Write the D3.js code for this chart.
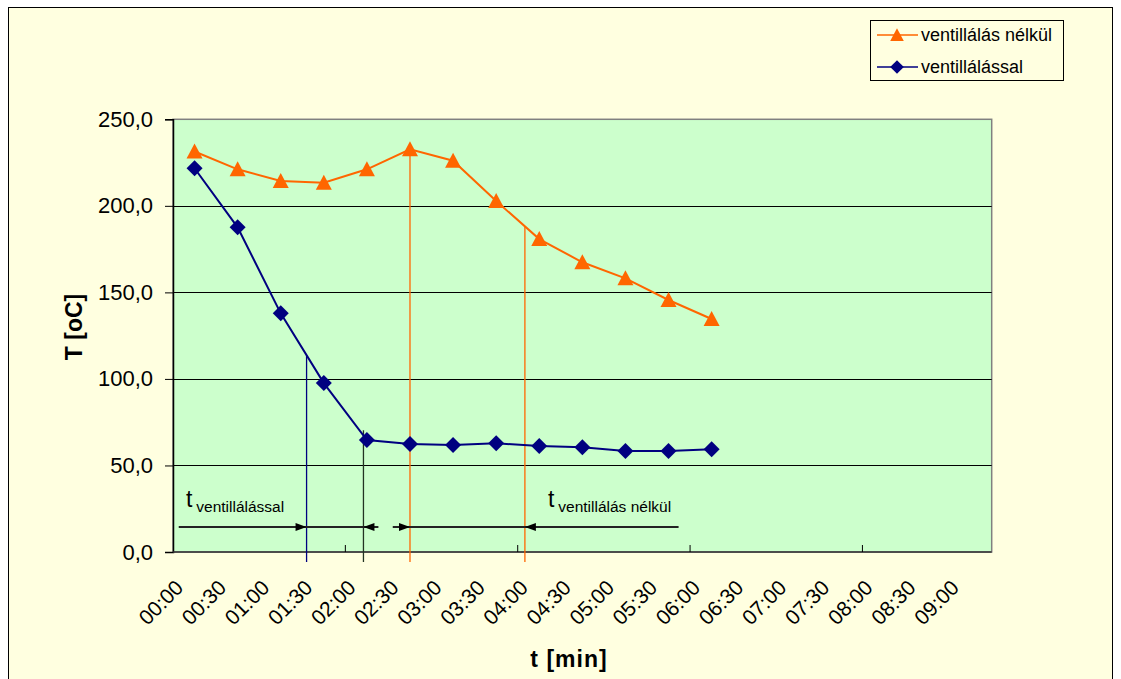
<!DOCTYPE html>
<html>
<head>
<meta charset="utf-8">
<script src="https://cdn.jsdelivr.net/npm/d3@7"></script>
<style>
  html, body { margin: 0; padding: 0; background: #ffffff; }
  svg { display: block; font-family: Arial, "Liberation Sans", sans-serif; }
</style>
</head>
<body>
<svg id="chart" width="1121" height="679"></svg>
<script>
// Time axis categories (every 30 s)
const timeLabels = ["00:00","00:30","01:00","01:30","02:00","02:30","03:00","03:30","04:00",
  "04:30","05:00","05:30","06:00","06:30","07:00","07:30","08:00","08:30","09:00"];
const stepSeconds = 30;

// Measured temperatures [°C]
const withoutVentilation = [231.4, 221.1, 214.4, 213.4, 221.1, 232.7, 226.1, 202.8, 180.8, 167.4, 158.1, 145.6, 134.6];
const withVentilation    = [221.7, 187.6, 137.9, 97.6, 64.7, 62.4, 61.8, 62.8, 61.2, 60.5, 58.4, 58.4, 59.3];

const seriesNames = ["ventillálás nélkül", "ventillálással"];
const yTicks = [0, 50, 100, 150, 200, 250];

// Duration markers (seconds): start/end of each cooling period
const markWith = [78, 117.6];
const markWithout = [150, 230];
// Horizontal arrow spans (seconds) and their level (°C)
const spanWith = [-11, 128];
const spanWithout = [138, 337];
const arrowLevel = 14.4;

const svg = d3.select("#chart");
const plot = { left: 173, right: 991.7, top: 119.3, bottom: 552 };

const ORANGE = "#ff6600", NAVY = "#000080";

// Chart frame
svg.append("rect").attr("x", 8.5).attr("y", 7.5).attr("width", 1104).attr("height", 690)
  .attr("fill", "#ffffe0").attr("stroke", "#000").attr("stroke-width", 1);

const x = d3.scaleLinear()
  .domain([-stepSeconds / 2, (timeLabels.length - 0.5) * stepSeconds])
  .range([plot.left, plot.right]);
const y = d3.scaleLinear().domain([0, 250]).range([plot.bottom, plot.top]);

// Plot area
svg.append("rect").attr("x", plot.left).attr("y", plot.top)
  .attr("width", plot.right - plot.left).attr("height", plot.bottom - plot.top)
  .attr("fill", "#ccffcc").attr("stroke", "#808080").attr("stroke-width", 1.5);

// Horizontal gridlines
svg.append("g").selectAll("line").data(yTicks.filter(d => d > 0 && d < 250)).join("line")
  .attr("x1", plot.left).attr("x2", plot.right)
  .attr("y1", d => Math.round(y(d)) + 0.5).attr("y2", d => Math.round(y(d)) + 0.5)
  .attr("stroke", "#000").attr("stroke-width", 1);

// Y axis
const yAxis = d3.axisLeft(y).tickValues(yTicks).tickSize(8).tickPadding(12)
  .tickFormat(d => d3.format(".1f")(d).replace(".", ","));
const gy = svg.append("g").attr("transform", `translate(${plot.left},0)`).call(yAxis);
gy.select(".domain").attr("stroke", "#000").attr("stroke-width", 1.5);
gy.selectAll(".tick line").attr("stroke", "#000");
gy.selectAll(".tick text").attr("font-size", 22).attr("fill", "#000");

// X axis baseline and inner tick marks (every 4 categories)
svg.append("line").attr("x1", plot.left).attr("x2", plot.right)
  .attr("y1", plot.bottom).attr("y2", plot.bottom).attr("stroke", "#333").attr("stroke-width", 1.5);
const boundaryTicks = d3.range(0, timeLabels.length + 1, 4).map(i => (i - 0.5) * stepSeconds);
svg.append("g").selectAll("line").data(boundaryTicks.slice(1)).join("line")
  .attr("x1", d => x(d)).attr("x2", d => x(d))
  .attr("y1", plot.bottom).attr("y2", plot.bottom - 7)
  .attr("stroke", "#000").attr("stroke-width", 1);

// X tick labels, rotated
svg.append("g").selectAll("text").data(timeLabels).join("text")
  .attr("transform", (d, i) => `translate(${x(i * stepSeconds) - 10},589) rotate(-45)`)
  .attr("text-anchor", "end").attr("font-size", 21).attr("fill", "#000")
  .text(d => d);

// Axis titles
svg.append("text").attr("transform", `translate(82,327) rotate(-90)`)
  .attr("text-anchor", "middle").attr("font-size", 23).attr("font-weight", "bold")
  .text("T [oC]");
svg.append("text").attr("x", 569).attr("y", 667)
  .attr("text-anchor", "middle").attr("font-size", 23).attr("font-weight", "bold")
  .attr("letter-spacing", 1)
  .text("t [min]");

// Interpolated curve value at a given time (for marker line tops)
function valueAt(series, t) {
  const p = t / stepSeconds, i = Math.floor(p), f = p - i;
  return series[i] + (series[Math.min(i + 1, series.length - 1)] - series[i]) * f;
}

// Vertical duration markers
const markers = [
  { t: markWith[0], top: valueAt(withVentilation, markWith[0]), color: NAVY },
  { t: markWith[1], top: valueAt(withVentilation, markWith[1]) + 3, color: "#223322" },
  { t: markWithout[0], top: valueAt(withoutVentilation, markWithout[0]), color: ORANGE },
  { t: markWithout[1], top: valueAt(withoutVentilation, markWithout[1]), color: ORANGE }
];
svg.append("g").selectAll("line").data(markers).join("line")
  .attr("x1", d => x(d.t)).attr("x2", d => x(d.t))
  .attr("y1", d => y(d.top)).attr("y2", plot.bottom + 10)
  .attr("stroke", d => d.color).attr("stroke-width", 1.3);

// Horizontal arrows
const ay = y(arrowLevel);
const arrows = svg.append("g");
[spanWith, spanWithout].forEach(s => {
  arrows.append("line").attr("x1", x(s[0])).attr("x2", x(s[1]))
    .attr("y1", ay).attr("y2", ay).attr("stroke", "#222").attr("stroke-width", 2);
});
const heads = [
  { t: markWith[0], dir: 1 }, { t: markWith[1], dir: -1 },
  { t: markWithout[0], dir: 1 }, { t: markWithout[1], dir: -1 }
];
arrows.selectAll("path").data(heads).join("path")
  .attr("d", d => {
    const tx = x(d.t), bx = tx - d.dir * 11;
    return `M${tx},${ay}L${bx},${ay - 4}L${bx},${ay + 4}Z`;
  })
  .attr("fill", "#000");

// Duration labels
function durationLabel(t, sub) {
  const txt = svg.append("text").attr("x", x(t)).attr("y", 507).attr("fill", "#000");
  txt.append("tspan").attr("font-size", 23).text("t");
  txt.append("tspan").attr("font-size", 15.5).attr("dx", 4).attr("dy", 5).text(sub);
}
durationLabel(-6, "ventillálással");
durationLabel(246, "ventillálás nélkül");

// Series lines and markers
const line = d3.line().x((d, i) => x(i * stepSeconds)).y(d => y(d));
svg.append("path").datum(withoutVentilation).attr("d", line)
  .attr("fill", "none").attr("stroke", ORANGE).attr("stroke-width", 2);
svg.append("path").datum(withVentilation).attr("d", line)
  .attr("fill", "none").attr("stroke", NAVY).attr("stroke-width", 2);

// Marker shapes centred on the data point
const triangle = "M0,-8L8,7L-8,7Z";
const diamond = "M0,-8L8,0L0,8L-8,0Z";
svg.append("g").selectAll("path").data(withoutVentilation).join("path")
  .attr("d", triangle)
  .attr("transform", (d, i) => `translate(${x(i * stepSeconds)},${y(d)})`)
  .attr("fill", ORANGE);
svg.append("g").selectAll("path").data(withVentilation).join("path")
  .attr("d", diamond)
  .attr("transform", (d, i) => `translate(${x(i * stepSeconds)},${y(d)})`)
  .attr("fill", NAVY);

// Legend
const lg = svg.append("g");
lg.append("rect").attr("x", 870.5).attr("y", 20.5).attr("width", 193).attr("height", 60)
  .attr("fill", "#ffffe0").attr("stroke", "#000").attr("stroke-width", 1);
const legendItems = [
  { name: seriesNames[0], color: ORANGE, sym: triangle },
  { name: seriesNames[1], color: NAVY, sym: diamond }
];
legendItems.forEach((d, i) => {
  const ly = 35 + i * 32;
  lg.append("line").attr("x1", 877).attr("x2", 918).attr("y1", ly).attr("y2", ly)
    .attr("stroke", d.color).attr("stroke-width", 1.5);
  lg.append("path").attr("d", d.sym)
    .attr("transform", `translate(897,${ly}) scale(0.85)`)
    .attr("fill", d.color);
  lg.append("text").attr("x", 921).attr("y", ly).attr("dy", "0.35em")
    .attr("font-size", 18).attr("fill", "#000").text(d.name);
});
</script>
</body>
</html>
